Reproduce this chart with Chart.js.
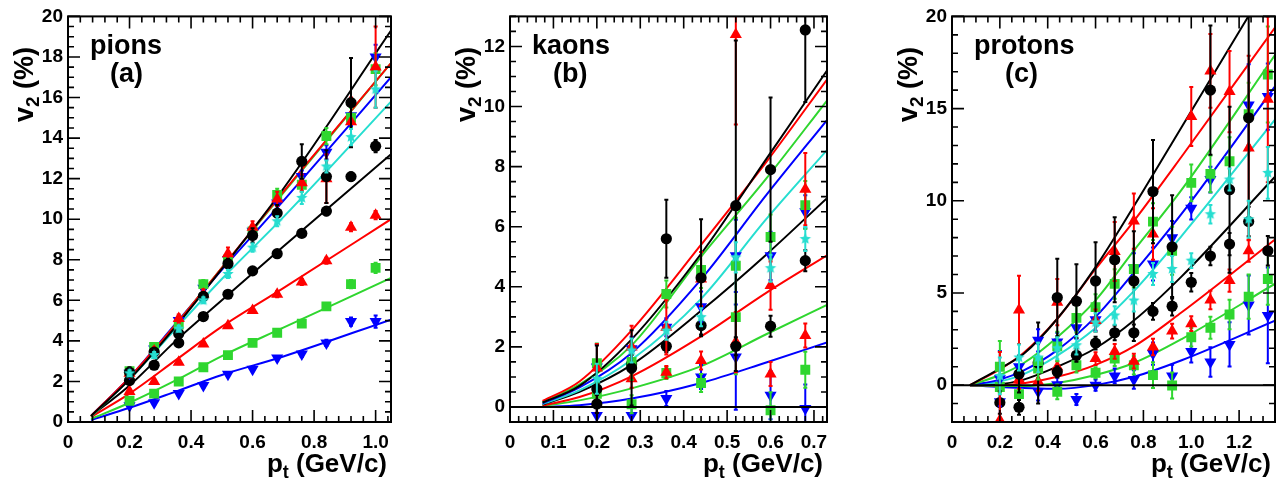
<!DOCTYPE html>
<html>
<head>
<meta charset="utf-8">
<script src="https://cdn.jsdelivr.net/npm/chart.js@4.4.0/dist/chart.umd.min.js"></script>
<style>
  body { margin: 0; background: #fff; }
  #wrap { display: flex; width: 1284px; height: 482px; }
  canvas { display: block; }
</style>
</head>
<body>
<div id="wrap">
  <canvas id="chartA" width="428" height="482"></canvas>
  <canvas id="chartB" width="428" height="482"></canvas>
  <canvas id="chartC" width="428" height="482"></canvas>
</div>
<script>
// ---------- pions (a) ----------
const pionPt = [0.2, 0.28, 0.36, 0.44, 0.52, 0.6, 0.68, 0.76, 0.84, 0.92, 1.0];
// upper set
const pionBlackA = [2.45, 3.45, 4.35, 6.2, 7.8, 9.2, 10.3, 12.85, 12.1, 15.75, null];
const pionBlackAErr = [0.25, 0.2, 0.2, 0.2, 0.25, 0.35, 0.4, 0.85, 1.3, 2.2, null];
const pionRedA = [2.4, 3.5, 5.1, 6.3, 8.3, 9.6, 11.0, 11.8, 12.0, 14.8, 17.5];
const pionRedAErr = [0.2, 0.2, 0.2, 0.25, 0.3, 0.3, 0.35, 0.4, 1.2, 1.2, 2.0];
const pionGreenA = [2.5, 3.7, 4.8, 6.8, 8.0, 9.4, 11.2, 11.7, 14.1, 15.0, 17.4];
const pionGreenAErr = [0.15, 0.15, 0.2, 0.2, 0.2, 0.25, 0.3, 0.35, 0.4, 0.5, 0.8];
const pionBlueA = [2.4, 3.6, 5.0, 6.6, 8.0, 9.4, 10.8, 12.1, 13.3, 15.1, 18.0];
const pionBlueAErr = [0.15, 0.15, 0.2, 0.2, 0.2, 0.25, 0.3, 0.3, 0.35, 0.5, 0.6];
const pionCyanA = [2.4, 3.3, 4.6, 6.0, 7.3, 8.6, 9.9, 11.05, 12.6, 14.05, 16.4];
const pionCyanAErr = [0.15, 0.15, 0.15, 0.15, 0.2, 0.2, 0.25, 0.3, 0.3, 0.4, 0.9];
// lower set
const pionBlackB = [2.05, 2.8, 3.9, 5.2, 6.3, 7.45, 8.3, 9.3, 10.4, 12.1, 13.6];
const pionBlackBErr = [0.1, 0.1, 0.1, 0.1, 0.1, 0.1, 0.15, 0.15, 0.2, 0.2, 0.3];
const pionRedB = [1.5, 2.0, 2.95, 3.85, 4.75, 5.5, 6.3, 6.9, 7.95, 9.6, 10.2];
const pionRedBErr = [0.1, 0.1, 0.1, 0.1, 0.1, 0.1, 0.15, 0.15, 0.15, 0.2, 0.2];
const pionGreenB = [1.05, 1.4, 2.0, 2.7, 3.3, 3.9, 4.4, 4.85, 5.7, 6.8, 7.6];
const pionGreenBErr = [0.1, 0.1, 0.1, 0.1, 0.1, 0.1, 0.1, 0.15, 0.15, 0.2, 0.25];
const pionBlueB = [0.8, 0.95, 1.4, 1.8, 2.35, 2.6, 3.15, 3.35, 3.9, 4.95, 4.95];
const pionBlueBErr = [0.1, 0.1, 0.1, 0.1, 0.1, 0.1, 0.1, 0.15, 0.15, 0.2, 0.3];
// fitted curves
const pionFitPt = [0.075, 0.2, 0.35, 0.5, 0.7, 1.05];
const pionFitBlackA = [0.3, 2.1, 4.7, 7.55, 11.5, 19.3];
const pionFitRedA = [0.3, 2.2, 4.8, 7.6, 11.35, 17.7];
const pionFitGreenA = [0.28, 2.15, 4.8, 7.6, 11.3, 17.7];
const pionFitBlueA = [0.3, 2.2, 4.85, 7.5, 10.9, 17.0];
const pionFitCyanA = [0.28, 2.1, 4.6, 7.05, 10.1, 15.8];
const pionFitBlackB = [0.3, 1.8, 4.0, 6.0, 8.65, 13.2];
const pionFitRedB = [0.25, 1.4, 3.05, 4.7, 6.6, 10.0];
const pionFitGreenB = [0.15, 0.95, 2.05, 3.25, 4.65, 7.1];
const pionFitBlueB = [0.1, 0.7, 1.5, 2.32, 3.23, 5.05];

// ---------- kaons (b) ----------
const kaonPt = [0.2, 0.28, 0.36, 0.44, 0.52, 0.6, 0.68];
const kaonBlackA = [0.6, 1.3, 5.6, 4.3, 6.7, 7.9, 12.55];
const kaonBlackAErr = [1.45, 1.25, 1.3, 1.95, 5.5, 2.4, 2.4];
const kaonRedA = [1.3, 2.0, 2.65, 4.26, 12.4, 4.04, 7.25];
const kaonRedAErr = [0.8, 0.7, 0.9, 0.9, 3.0, 0.8, 1.2];
const kaonGreenA = [1.46, 1.5, 3.76, 4.56, 4.7, 5.66, 6.72];
const kaonGreenAErr = [0.65, 0.6, 0.45, 0.6, 1.6, 0.75, 0.8];
const kaonBlueA = [1.33, 1.94, 2.65, 3.34, 5.03, 5.03, 6.5];
const kaonBlueAErr = [0.75, 0.4, 0.3, 0.5, 1.2, 0.8, 0.55];
const kaonCyanA = [0.94, 1.88, 2.54, 2.99, 4.98, 4.62, 5.59];
const kaonCyanAErr = [0.5, 0.4, 0.3, 0.3, 0.5, 0.45, 0.4];
const kaonBlackB = [0.1, 1.43, 2.02, 2.71, 2.02, 2.69, 4.87];
const kaonBlackBErr = [0.3, 0.3, 0.2, 0.3, 0.3, 0.35, 0.35];
const kaonRedB = [0.11, 0.94, 1.16, 1.55, 2.16, 1.1, 2.38];
const kaonRedBErr = [0.3, 0.3, 0.2, 0.3, 1.0, 0.4, 0.4];
const kaonGreenB = [0.44, 0.09, 1.13, 0.8, 2.99, -0.11, 1.24];
const kaonGreenBErr = [0.3, 0.3, 0.2, 0.3, 1.9, 0.6, 0.6];
const kaonBlueB = [-0.28, -0.28, 0.28, 1.0, 1.66, 0.39, -0.05];
const kaonBlueBErr = [0.4, 0.3, 0.25, 0.4, 1.75, 0.8, 0.8];
const kaonFitPt = [0.075, 0.16, 0.28, 0.44, 0.59, 0.73];
const kaonFitBlackA = [0.15, 0.7, 2.25, 5.1, 8.25, 11.2];
const kaonFitRedA = [0.2, 0.85, 2.55, 5.4, 8.15, 10.9];
const kaonFitGreenA = [0.15, 0.75, 2.05, 5.0, 7.6, 10.2];
const kaonFitBlueA = [0.12, 0.65, 1.8, 4.25, 7.05, 9.55];
const kaonFitCyanA = [0.1, 0.55, 1.57, 3.6, 6.25, 8.55];
const kaonFitBlackB = [0.08, 0.5, 1.4, 3.2, 5.07, 6.95];
const kaonFitRedB = [0.05, 0.33, 1.02, 2.35, 3.8, 5.05];
const kaonFitGreenB = [0.03, 0.22, 0.62, 1.36, 2.42, 3.4];
const kaonFitBlueB = [0.0, 0.06, 0.28, 0.8, 1.48, 2.15];

// ---------- protons (c) ----------
const protonPt = [0.2, 0.28, 0.36, 0.44, 0.52, 0.6, 0.68, 0.76, 0.84, 0.92, 1.0, 1.08, 1.16, 1.24, 1.32];
const protonBlackA = [null, 0.6, null, 4.75, 4.55, 5.65, 6.8, 5.65, 10.5, 7.5, null, 16.0, 10.6, 14.5, null];
const protonBlackAErr = [null, 1.0, null, 2.1, 2.0, 2.1, 2.3, 2.7, 2.8, 2.8, null, 3.5, 4.5, 5.5, null];
const protonRedA = [-1.9, 4.08, null, 4.5, null, 3.5, 7.25, 8.9, 8.2, null, 14.57, 17.04, 15.92, 12.86, 15.5];
const protonRedAErr = [3.7, 1.85, null, 1.25, null, 0.6, 1.6, 1.5, 1.4, null, 1.6, 2.0, 2.2, 5.0, 4.5];
const protonGreenA = [1.0, null, 1.3, 2.1, 3.65, 4.23, 5.49, 6.3, 8.87, 7.29, 10.97, 11.46, 12.14, 14.7, 16.85];
const protonGreenAErr = [1.4, null, 1.0, 0.8, 0.8, 0.7, 0.8, 1.0, 1.0, 1.3, 1.0, 1.0, 1.3, 1.7, 2.6];
const protonBlueA = [0.35, 1.0, 2.43, 2.34, 3.11, 3.55, null, 6.35, 6.57, 8.0, 9.59, 11.15, null, 15.2, 15.65];
const protonBlueAErr = [1.5, 0.6, 0.6, 0.5, 0.6, 0.6, null, 0.8, 0.9, 0.9, 0.6, 0.7, null, 2.2, 1.8];
const protonCyanA = [0.5, 1.5, 1.5, 2.0, 2.16, 3.4, 3.78, 4.59, 6.03, 6.3, 6.75, 9.27, 11.15, 9.0, 11.51];
const protonCyanAErr = [1.0, 0.7, 0.8, 0.6, 0.5, 0.5, 0.5, 0.6, 0.6, 0.7, 0.4, 0.5, 0.6, 1.0, 1.4];
const protonBlackB = [-0.95, -1.2, 1.2, 0.72, 1.62, 2.28, 2.84, 2.84, 4.0, 4.28, 5.58, 7.0, 7.65, 8.87, 7.29];
const protonBlackBErr = [0.6, 0.4, 2.2, 0.3, 0.35, 0.35, 0.4, 0.45, 0.45, 0.5, 0.5, 0.5, 0.6, 0.8, 0.8];
const protonRedB = [null, 0.3, 0.2, 0.99, null, 1.44, 1.83, 1.3, 2.07, 2.93, 3.33, 4.62, 5.67, 7.29, null];
const protonRedBErr = [null, 0.5, 0.5, 0.3, null, 0.35, 0.4, 0.4, 0.45, 0.4, 0.4, 0.5, 0.6, 0.6, null];
const protonGreenB = [-0.1, -0.49, 0.9, -0.36, 1.08, 0.67, 1.44, 1.08, 0.54, -0.02, 2.6, 3.11, 3.83, 4.8, 5.76];
const protonGreenBErr = [1.0, 0.5, 0.5, 0.4, 0.4, 0.3, 0.4, 0.5, 0.7, 0.7, 0.5, 0.6, 0.8, 1.2, 1.4];
const protonBlueB = [-0.9, 0.45, -0.34, 0.02, -0.78, 0.0, 0.5, 0.31, 1.71, 0.5, 1.83, 1.26, 2.21, 4.35, 3.78];
const protonBlueBErr = [1.0, 0.6, 0.5, 0.4, 0.3, 0.3, 0.4, 0.5, 0.6, 0.6, 0.6, 0.8, 1.2, 1.6, 2.6];
const protonFitPt = [0.075, 0.2, 0.3, 0.44, 0.6, 0.76, 0.96, 1.35];
const protonFitBlackA = [0, 0.9, 1.7, 3.6, 6.4, 9.7, 14.0, 22.4];
const protonFitRedA = [0, 0.85, 1.75, 3.6, 6.3, 8.9, 12.4, 19.4];
const protonFitGreenA = [0, 0.55, 1.2, 2.6, 4.6, 7.3, 10.6, 17.9];
const protonFitBlueA = [0, 0.3, 0.8, 1.9, 3.7, 6.1, 9.3, 16.2];
const protonFitCyanA = [0, 0.2, 0.6, 1.6, 3.1, 5.1, 8.1, 14.4];
const protonFitBlackB = [0, 0.05, 0.3, 1.0, 2.0, 3.5, 5.9, 11.3];
const protonFitRedB = [0, 0.0, 0.1, 0.45, 1.1, 2.1, 3.95, 7.9];
const protonFitGreenB = [0, -0.05, -0.05, 0.12, 0.55, 1.2, 2.5, 5.5];
const protonFitBlueB = [0, -0.1, -0.15, -0.2, 0.0, 0.45, 1.35, 3.5];

// ---------- styles ----------
const FONT = "'Liberation Sans', Arial, sans-serif";
Chart.defaults.font.family = FONT;

function makeStar(color, r) {
  const c = document.createElement('canvas');
  c.width = c.height = Math.ceil(2 * r + 2);
  const g = c.getContext('2d');
  g.fillStyle = color;
  g.beginPath();
  for (let i = 0; i < 10; i++) {
    const rr = i % 2 ? r * 0.45 : r;
    const a = -Math.PI / 2 + i * Math.PI / 5;
    g.lineTo(c.width / 2 + rr * Math.cos(a), c.height / 2 + rr * Math.sin(a));
  }
  g.closePath();
  g.fill();
  return c;
}

const black = { color: '#000000', shape: 'circle', r: 5.6 };
const red = { color: '#ff0000', shape: 'triangle', r: 7 };
const green = { color: '#2fd62f', shape: 'rect', r: 7 };
const blue = { color: '#0000ff', shape: 'triangle', r: 7, rot: 180 };
const cyan = { color: '#26ded0', shape: makeStar('#26ded0', 6) };

function pts(xs, ys) {
  return xs.map((x, i) => ({ x: x, y: ys[i] }));
}

function markers(xs, ys, errs, st) {
  return {
    data: pts(xs, ys), errors: errs, showLine: false,
    backgroundColor: st.color, borderColor: st.color, borderWidth: 0,
    pointStyle: st.shape, pointRadius: st.r || 5, pointRotation: st.rot || 0,
    order: 0
  };
}

function fit(xs, ys, st) {
  return {
    data: pts(xs, ys), showLine: true, borderColor: st.color, borderWidth: 2,
    pointRadius: 0, cubicInterpolationMode: 'monotone', order: 1
  };
}

// error bars, drawn just before each marker set
const errorBars = {
  id: 'errorBars',
  beforeDatasetDraw(chart, args) {
    const ds = chart.data.datasets[args.index];
    if (!ds.errors) return;
    const { ctx, chartArea: a } = chart;
    const y = chart.scales.y;
    ctx.save();
    ctx.beginPath();
    ctx.rect(a.left, a.top, a.right - a.left, a.bottom - a.top);
    ctx.clip();
    ctx.strokeStyle = ds.borderColor;
    ctx.lineWidth = 2;
    args.meta.data.forEach((el, i) => {
      const v = ds.data[i].y, e = ds.errors[i];
      if (v === null || e === null || e === undefined) return;
      const top = y.getPixelForValue(v + e), bot = y.getPixelForValue(v - e);
      ctx.beginPath();
      ctx.moveTo(el.x, top); ctx.lineTo(el.x, bot);
      ctx.moveTo(el.x - 2, top); ctx.lineTo(el.x + 2, top);
      ctx.moveTo(el.x - 2, bot); ctx.lineTo(el.x + 2, bot);
      ctx.stroke();
    });
    ctx.restore();
  }
};

// text with subscripts: parts = [[text, isSub], ...], right-aligned at x
function richText(ctx, parts, x, y, size) {
  const subSize = Math.round(size * 0.7);
  let w = 0;
  parts.forEach(p => {
    ctx.font = 'bold ' + (p[1] ? subSize : size) + 'px ' + FONT;
    w += ctx.measureText(p[0]).width;
  });
  let cx = x - w;
  parts.forEach(p => {
    ctx.font = 'bold ' + (p[1] ? subSize : size) + 'px ' + FONT;
    ctx.fillText(p[0], cx, p[1] ? y + 6 : y);
    cx += ctx.measureText(p[0]).width;
  });
}

// ROOT-like frame: border, inner ticks on four sides, zero line, titles
const frame = {
  id: 'frame',
  afterDatasetsDraw(chart, args, o) {
    const { ctx, chartArea: a } = chart;
    const xs = chart.scales.x, ys = chart.scales.y;
    ctx.save();
    ctx.strokeStyle = '#000';
    if (o.zeroLine) {
      const y0 = ys.getPixelForValue(0);
      ctx.lineWidth = 2;
      ctx.beginPath(); ctx.moveTo(a.left, y0); ctx.lineTo(a.right, y0); ctx.stroke();
    }
    ctx.lineWidth = 1.6;
    ctx.beginPath();
    for (let k = Math.ceil(xs.min / o.xMinor - 1e-6); k * o.xMinor <= xs.max + 1e-9; k++) {
      const v = k * o.xMinor;
      const major = Math.abs(v / o.xStep - Math.round(v / o.xStep)) < 1e-6;
      const px = xs.getPixelForValue(v), len = major ? 12 : 6;
      ctx.moveTo(px, a.bottom); ctx.lineTo(px, a.bottom - len);
      ctx.moveTo(px, a.top); ctx.lineTo(px, a.top + len);
    }
    for (let k = Math.ceil(ys.min / o.yMinor - 1e-6); k * o.yMinor <= ys.max + 1e-9; k++) {
      const v = k * o.yMinor;
      const major = Math.abs(v / o.yStep - Math.round(v / o.yStep)) < 1e-6;
      const py = ys.getPixelForValue(v), len = major ? 12 : 6;
      ctx.moveTo(a.left, py); ctx.lineTo(a.left + len, py);
      ctx.moveTo(a.right, py); ctx.lineTo(a.right - len, py);
    }
    ctx.stroke();
    ctx.lineWidth = 2;
    ctx.strokeRect(a.left, a.top, a.right - a.left, a.bottom - a.top);
    ctx.restore();
  },
  afterDraw(chart, args, o) {
    const { ctx, chartArea: a } = chart;
    ctx.save();
    ctx.fillStyle = '#000';
    ctx.textBaseline = 'alphabetic';
    ctx.textAlign = 'left';
    ctx.font = 'bold 27px ' + FONT;
    ctx.fillText(o.name, a.left + 22, 54);
    ctx.fillText(o.tag, a.left + o.tagX, 82);
    richText(ctx, [['p', false], ['t', true], [' (GeV/c)', false]], a.right - 4, 472, 26);
    ctx.translate(a.left - 35, 47);
    ctx.rotate(-Math.PI / 2);
    richText(ctx, [['v', false], ['2', true], [' (%)', false]], 0, 0, 27);
    ctx.restore();
  }
};

function makeChart(id, p, datasets) {
  const tickFont = { family: FONT, size: 19, weight: 'bold' };
  return new Chart(document.getElementById(id), {
    type: 'scatter',
    data: { datasets: datasets },
    options: {
      responsive: false,
      animation: false,
      events: [],
      layout: { padding: { top: 14, right: p.right, left: 0, bottom: 0 } },
      plugins: {
        legend: { display: false },
        tooltip: { enabled: false },
        frame: { name: p.name, tag: p.tag, tagX: p.tagX, zeroLine: p.zeroLine,
                 xStep: p.xStep, xMinor: p.xMinor, yStep: p.yStep, yMinor: p.yMinor }
      },
      scales: {
        x: {
          type: 'linear', min: 0, max: p.xMax,
          grid: { display: false, drawTicks: false }, border: { display: false },
          ticks: { stepSize: p.xStep, includeBounds: false, autoSkip: false, maxRotation: 0,
                   color: '#000', font: tickFont, padding: 9 },
          afterFit: s => { s.height = 60; }
        },
        y: {
          type: 'linear', min: p.yMin, max: p.yMax,
          grid: { display: false, drawTicks: false }, border: { display: false },
          ticks: { stepSize: p.yStep, includeBounds: false, autoSkip: false,
                   color: '#000', font: tickFont, padding: 5 },
          afterFit: s => { s.width = p.left; }
        }
      }
    },
    plugins: [errorBars, frame]
  });
}

makeChart('chartA',
  { name: 'pions', tag: '(a)', tagX: 42, left: 68, right: 37, xMax: 1.05, yMin: 0, yMax: 20,
    xStep: 0.2, xMinor: 0.04, yStep: 2, yMinor: 0.5, zeroLine: false },
  [
    markers(pionPt, pionCyanA, pionCyanAErr, cyan),
    markers(pionPt, pionBlackA, pionBlackAErr, black),
    markers(pionPt, pionRedA, pionRedAErr, red),
    markers(pionPt, pionGreenA, pionGreenAErr, green),
    markers(pionPt, pionBlueA, pionBlueAErr, blue),
    markers(pionPt, pionBlackB, pionBlackBErr, black),
    markers(pionPt, pionRedB, pionRedBErr, red),
    markers(pionPt, pionGreenB, pionGreenBErr, green),
    markers(pionPt, pionBlueB, pionBlueBErr, blue),
    fit(pionFitPt, pionFitBlackA, black),
    fit(pionFitPt, pionFitRedA, red),
    fit(pionFitPt, pionFitGreenA, green),
    fit(pionFitPt, pionFitBlueA, blue),
    fit(pionFitPt, pionFitCyanA, cyan),
    fit(pionFitPt, pionFitBlackB, black),
    fit(pionFitPt, pionFitRedB, red),
    fit(pionFitPt, pionFitGreenB, green),
    fit(pionFitPt, pionFitBlueB, blue)
  ]);

makeChart('chartB',
  { name: 'kaons', tag: '(b)', tagX: 43, left: 82, right: 29, xMax: 0.73, yMin: -0.5, yMax: 13,
    xStep: 0.1, xMinor: 0.02, yStep: 2, yMinor: 0.5, zeroLine: true },
  [
    markers(kaonPt, kaonCyanA, kaonCyanAErr, cyan),
    markers(kaonPt, kaonBlackA, kaonBlackAErr, black),
    markers(kaonPt, kaonRedA, kaonRedAErr, red),
    markers(kaonPt, kaonGreenA, kaonGreenAErr, green),
    markers(kaonPt, kaonBlueA, kaonBlueAErr, blue),
    markers(kaonPt, kaonBlackB, kaonBlackBErr, black),
    markers(kaonPt, kaonRedB, kaonRedBErr, red),
    markers(kaonPt, kaonGreenB, kaonGreenBErr, green),
    markers(kaonPt, kaonBlueB, kaonBlueBErr, blue),
    fit(kaonFitPt, kaonFitBlackA, black),
    fit(kaonFitPt, kaonFitRedA, red),
    fit(kaonFitPt, kaonFitGreenA, green),
    fit(kaonFitPt, kaonFitBlueA, blue),
    fit(kaonFitPt, kaonFitCyanA, cyan),
    fit(kaonFitPt, kaonFitBlackB, black),
    fit(kaonFitPt, kaonFitRedB, red),
    fit(kaonFitPt, kaonFitGreenB, green),
    fit(kaonFitPt, kaonFitBlueB, blue)
  ]);

makeChart('chartC',
  { name: 'protons', tag: '(c)', tagX: 53, left: 96, right: 9, xMax: 1.35, yMin: -2, yMax: 20,
    xStep: 0.2, xMinor: 0.05, yStep: 5, yMinor: 1, zeroLine: true },
  [
    markers(protonPt, protonCyanA, protonCyanAErr, cyan),
    markers(protonPt, protonBlackA, protonBlackAErr, black),
    markers(protonPt, protonRedA, protonRedAErr, red),
    markers(protonPt, protonGreenA, protonGreenAErr, green),
    markers(protonPt, protonBlueA, protonBlueAErr, blue),
    markers(protonPt, protonBlackB, protonBlackBErr, black),
    markers(protonPt, protonRedB, protonRedBErr, red),
    markers(protonPt, protonGreenB, protonGreenBErr, green),
    markers(protonPt, protonBlueB, protonBlueBErr, blue),
    fit(protonFitPt, protonFitBlackA, black),
    fit(protonFitPt, protonFitRedA, red),
    fit(protonFitPt, protonFitGreenA, green),
    fit(protonFitPt, protonFitBlueA, blue),
    fit(protonFitPt, protonFitCyanA, cyan),
    fit(protonFitPt, protonFitBlackB, black),
    fit(protonFitPt, protonFitRedB, red),
    fit(protonFitPt, protonFitGreenB, green),
    fit(protonFitPt, protonFitBlueB, blue)
  ]);
</script>
</body>
</html>
